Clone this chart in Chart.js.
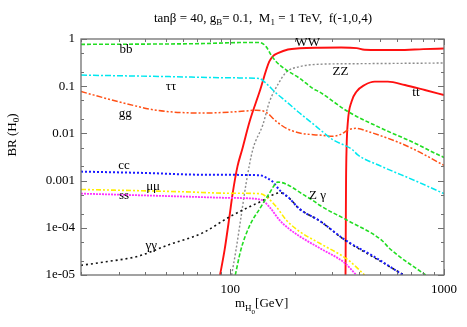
<!DOCTYPE html>
<html><head><meta charset="utf-8">
<script src="https://cdn.jsdelivr.net/npm/chart.js@4.4.1/dist/chart.umd.min.js"></script>
<style>html,body{margin:0;padding:0;background:#fff}#wrap{width:467px;height:327px;position:relative}</style>
</head><body><div id="wrap"><canvas id="c" width="467" height="327"></canvas></div>
<script>
// ---- data (mass in GeV, branching ratio) ----
const xTickValues = [100, 1000];
const xTickLabels = ["100", "1000"];
const yTickValues = [1, 0.1, 0.01, 0.001, 1e-4, 1e-5];
const yTickLabels = ["1", "0.1", "0.01", "0.001", "1e-04", "1e-05"];

const bbMass = [20, 40, 75, 110, 137, 147, 155, 164, 183, 211, 243, 262, 355, 510, 731, 907, 1000];
const bbBR   = [0.77, 0.78, 0.80, 0.84, 0.84, 0.69, 0.46, 0.33, 0.22, 0.147, 0.09, 0.075, 0.029, 0.0128, 0.0062, 0.0038, 0.0031];

const wwMass = [89.5, 94, 99, 102.5, 108, 113.5, 123, 137, 152, 158, 167, 186, 211, 262, 330, 390, 425, 500, 608, 800, 1000];
const wwBR   = [1e-5, 3.4e-5, 1.7e-4, 5.3e-4, 0.002, 0.0045, 0.0177, 0.076, 0.33, 0.43, 0.50, 0.60, 0.635, 0.654, 0.66, 0.64, 0.59, 0.585, 0.585, 0.61, 0.63];

const zzMass = [101.4, 106.3, 112.3, 118.5, 127.3, 141.8, 152.5, 170, 183, 211, 253, 400, 1000];
const zzBR   = [1e-5, 3.4e-5, 1.74e-4, 8.7e-4, 0.0045, 0.015, 0.047, 0.125, 0.2, 0.26, 0.29, 0.30, 0.31];

const ttMass = [346, 347, 348, 350, 355, 369, 389, 425, 474, 546, 656, 813, 1000];
const ttBR   = [1e-5, 1e-4, 1e-3, 0.005, 0.018, 0.047, 0.076, 0.106, 0.125, 0.125, 0.106, 0.083, 0.065];

const tauMass = [20, 50, 110, 137, 147, 164, 183, 211, 248, 300, 373, 395, 510, 731, 1000];
const tauBR   = [0.172, 0.16, 0.15, 0.145, 0.115, 0.071, 0.047, 0.027, 0.015, 0.0075, 0.0045, 0.0035, 0.002, 0.001, 0.00053];

const ggMass = [20, 30, 45, 75, 110, 132, 147, 164, 183, 211, 262, 300, 331, 355, 389, 440, 610, 731, 1000];
const ggBR   = [0.077, 0.047, 0.031, 0.027, 0.029, 0.031, 0.028, 0.018, 0.0128, 0.0102, 0.0092, 0.0087, 0.0097, 0.0118, 0.0128, 0.011, 0.0065, 0.0045, 0.0021];

const ccMass = [20, 40, 75, 137, 150, 157, 170, 189, 211, 262, 343, 474, 642];
const ccBR   = [0.00155, 0.00145, 0.00133, 0.0013, 0.0011, 0.00097, 0.00063, 0.00042, 0.00025, 0.00014, 5.6e-5, 2.4e-5, 1e-5];

const muMass = [20, 60, 100, 137, 147, 164, 183, 211, 262, 355, 425];
const muBR   = [6.5e-4, 5.8e-4, 5.4e-4, 5.3e-4, 4.6e-4, 2.8e-4, 1.45e-4, 8.3e-5, 4.7e-5, 2.1e-5, 1e-5];

const ssMass = [20, 60, 100, 138, 152, 170, 189, 211, 262, 343, 389];
const ssBR   = [5.3e-4, 4.6e-4, 4.3e-4, 4.0e-4, 2.8e-4, 1.45e-4, 9.4e-5, 6.6e-5, 3.7e-5, 1.8e-5, 1e-5];

const gamMass = [20, 26, 37, 51, 75, 99, 123, 142, 155, 165, 172, 189, 211, 262, 343, 474, 650];
const gamBR   = [1.6e-5, 1.9e-5, 2.5e-5, 4.3e-5, 8e-5, 1.7e-4, 2.8e-4, 3.8e-4, 4.8e-4, 5.4e-4, 5.5e-4, 4.2e-4, 2.5e-4, 1.4e-4, 5.5e-5, 2.3e-5, 1e-5];

const zgMass = [105.5, 112, 123, 137, 152, 167, 227, 248, 262, 352, 510, 558, 820];
const zgBR   = [1e-5, 3.4e-5, 1.1e-4, 2.5e-4, 5.3e-4, 9.3e-4, 4.6e-4, 3.6e-4, 3.0e-4, 1.45e-4, 5.5e-5, 3.6e-5, 1e-5];

const curveLabels = ["bb", "ττ", "gg", "cc", "μμ", "ss", "γγ", "WW", "ZZ", "tt", "Z γ"];
const curveLabelMass = [32.5, 52.8, 32.2, 31.8, 43.5, 31.8, 42.6, 230, 328, 739, 256];
const curveLabelBR   = [0.585, 0.1, 0.0258, 0.00205, 7.3e-4, 4.7e-4, 4.3e-5, 0.82, 0.2, 0.072, 4.9e-4];
// ---------------------------------------------

const serif = '"Liberation Serif", "DejaVu Serif", serif';
function pts(xs, ys){ return xs.map((x,i)=>({x:x, y:ys[i]})); }
function ds(label, xs, ys, color, width, dash){
  return {label, data: pts(xs, ys), borderColor: color, backgroundColor: color, borderWidth: width,
          borderDash: dash, pointRadius: 0, showLine: true, fill: false, cubicInterpolationMode: 'monotone'};
}
const datasets = [
  ds('bb', bbMass, bbBR, '#22dd22', 1.6, [4,2]),
  ds('Zg', zgMass, zgBR, '#22dd22', 1.6, [4,2]),
  ds('tau', tauMass, tauBR, '#00e8f0', 1.5, [6,2,2,2]),
  ds('gg', ggMass, ggBR, '#ff5016', 1.5, [6,2,2,2,2,2]),
  ds('ss', ssMass, ssBR, '#ff33ff', 1.8, [2,1]),
  ds('mu', muMass, muBR, '#ffee00', 1.6, [5,2,2,2,2,2]),
  ds('cc', ccMass, ccBR, '#1a1aff', 2, [2,2]),
  ds('gam', gamMass, gamBR, '#111111', 1.6, [2,3]),
  ds('zz', zzMass, zzBR, '#8c8c8c', 1.4, [2,2]),
  ds('ww', wwMass, wwBR, '#ff1010', 1.9, []),
  ds('tt', ttMass, ttBR, '#ff1010', 1.9, []),
];

function drawSegs(ctx, segs, cx, baseY, align){
  let w = 0;
  segs.forEach(s=>{ ctx.font = s[1] + 'px ' + serif; w += ctx.measureText(s[0]).width; });
  let x = align === 'center' ? cx - w/2 : cx;
  ctx.textAlign = 'left'; ctx.textBaseline = 'alphabetic';
  segs.forEach(s=>{ ctx.font = s[1] + 'px ' + serif; ctx.fillText(s[0], x, baseY + (s[2]||0)); x += ctx.measureText(s[0]).width; });
}

const framePlugin = {
  id: 'frame',
  afterDatasetsDraw(chart){
    const ctx = chart.ctx, a = chart.chartArea, xs = chart.scales.x, ys = chart.scales.y;
    ctx.save();
    ctx.strokeStyle = '#707070'; ctx.lineWidth = 1.3; ctx.setLineDash([]);
    ctx.strokeRect(a.left, a.top, a.right - a.left, a.bottom - a.top);
    ctx.lineWidth = 1;
    for (let d = 20; d <= 1000; d += (d < 100 ? 10 : 100)) {
      const px = Math.round(xs.getPixelForValue(d)) + 0.5;
      const major = (d === 100 || d === 1000);
      const L = major ? 6 : 3;
      ctx.beginPath();
      ctx.moveTo(px, a.bottom); ctx.lineTo(px, a.bottom - L);
      ctx.moveTo(px, a.top); ctx.lineTo(px, a.top + L);
      ctx.stroke();
    }
    for (let e = -5; e <= 0; e++) {
      [1, 2, 5].forEach(m => {
        const v = m * Math.pow(10, e);
        if (v > 1.0001) return;
        const py = Math.round(ys.getPixelForValue(v)) + 0.5;
        const L = m === 1 ? 6 : 3;
        ctx.beginPath();
        ctx.moveTo(a.left, py); ctx.lineTo(a.left + L, py);
        ctx.moveTo(a.right, py); ctx.lineTo(a.right - L, py);
        ctx.stroke();
      });
    }
    ctx.fillStyle = '#000';
    ctx.font = '13px ' + serif; ctx.textAlign = 'center'; ctx.textBaseline = 'middle';
    curveLabels.forEach((t, i) => {
      ctx.fillText(t, xs.getPixelForValue(curveLabelMass[i]), ys.getPixelForValue(curveLabelBR[i]));
    });
    drawSegs(ctx, [["tanβ = 40, g",13],["B",9,3],["= 0.1,  M",13],["1",9,3],[" = 1 TeV,  f(-1,0,4)",13]], 263, 22, 'center');
    drawSegs(ctx, [["m",13],["H",9,4],["0",7,7],["[GeV]",13]], 235, 307, 'left');
    ctx.save();
    ctx.translate(16, 135); ctx.rotate(-Math.PI/2);
    drawSegs(ctx, [["BR (H",13],["0",9,3],[")",13]], 0, 0, 'center');
    ctx.restore();
    ctx.restore();
  }
};

new Chart(document.getElementById('c'), {
  type: 'scatter',
  data: { datasets },
  options: {
    responsive: false, animation: false, devicePixelRatio: 1,
    layout: { padding: { top: 39, right: 23, left: 0, bottom: 0 } },
    plugins: { legend: { display: false }, tooltip: { enabled: false }, title: { display: false } },
    scales: {
      x: {
        type: 'logarithmic', min: 20, max: 1000,
        grid: { display: false, drawTicks: false }, border: { display: false },
        afterBuildTicks: s => { s.ticks = xTickValues.map(v => ({ value: v })); },
        afterFit: s => { s.height = 52; },
        ticks: { padding: 7, color: '#000', font: { family: serif, size: 13 }, maxRotation: 0, autoSkip: false,
                 callback: v => { const i = xTickValues.indexOf(v); return i >= 0 ? xTickLabels[i] : ''; } }
      },
      y: {
        type: 'logarithmic', min: 1e-5, max: 1,
        grid: { display: false, drawTicks: false }, border: { display: false },
        afterBuildTicks: s => { s.ticks = yTickValues.map(v => ({ value: v })); },
        afterFit: s => { s.width = 81; },
        ticks: { padding: 6, color: '#000', font: { family: serif, size: 13 }, autoSkip: false,
                 callback: v => { const i = yTickValues.findIndex(t => Math.abs(t - v) / t < 1e-6); return i >= 0 ? yTickLabels[i] : ''; } }
      }
    }
  },
  plugins: [framePlugin]
});
</script>
</body></html>
